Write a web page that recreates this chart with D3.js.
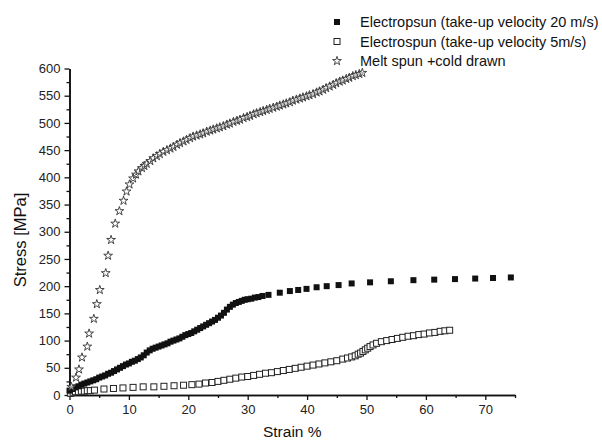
<!DOCTYPE html>
<html>
<head>
<meta charset="utf-8">
<script src="https://cdn.jsdelivr.net/npm/d3@7"></script>
<style>
  body { margin: 0; background: #fff; }
  svg { font-family: "Liberation Sans", Arial, sans-serif; }
</style>
</head>
<body>
<div class="chart"></div>
<script>
// electrospun, take-up velocity 20 m/s
var strain20 = [0.0,0.5,1.0,1.5,2.0,2.5,3.0,3.5,4.0,4.5,5.0,5.5,6.0,6.5,7.0,7.5,8.0,8.5,9.0,9.5,
  10.0,10.5,11.0,11.5,12.0,12.5,13.0,13.5,14.0,14.5,15.0,15.5,16.0,16.5,17.0,17.5,18.0,18.5,19.0,19.5,
  20.0,20.5,21.0,21.5,22.0,22.5,23.0,23.5,24.0,24.5,25.0,25.5,26.0,26.5,27.0,27.5,28.0,28.5,29.0,29.5,
  30.0,30.6,31.2,31.8,32.5,33.5,35.4,37.1,38.5,39.9,41.6,43.3,45.3,47.5,
  50.6,54.1,57.9,61.4,64.9,68.3,71.3,74.3];
var stress20 = [8,11,14,16,19,21,23,25,27,29,32,34,36,39,41,44,47,50,53,56,
  58,61,63,66,69,73,78,82,85,87,89,91,93,95,98,100,102,104,107,110,
  112,114,117,120,123,126,129,132,135,138,142,146,151,157,162,166,169,171,173,175,
  176,177,179,180,182,184,188,191,193,195,198,200,202,205,
  207,209,211,212,213,214,215,216];

// electrospun, take-up velocity 5 m/s
var strain5 = [0.2,0.6,1.0,1.5,2.0,2.5,3.0,3.5,4.2,5.8,7.4,9.0,10.7,12.4,14.2,15.9,17.6,19.2,20.6,21.8,
  22.9,24.0,25.0,26.0,27.0,28.0,29.0,30.0,31.0,32.0,33.0,34.0,35.0,36.0,37.0,38.0,39.0,40.0,41.0,42.0,
  43.0,44.0,45.0,46.0,46.8,47.5,48.1,48.6,49.0,49.4,49.8,50.2,50.6,51.1,51.7,52.5,53.4,54.3,55.2,56.1,
  57.0,57.9,58.8,59.7,60.6,61.5,62.4,63.2,64.0];
var stress5 = [3,5,6,6,7,7,8,8,9,11,12,13,14,15,15,16,17,18,19,20,
  22,23,25,27,29,31,33,34,36,38,40,41,43,45,47,49,51,53,55,57,
  59,61,63,66,68,70,72,75,77,80,83,86,89,92,95,98,100,102,104,106,
  108,109,111,112,114,115,117,118,119];

// melt spun + cold drawn
var strainMelt = [0.3,1.1,1.6,2.1,3.0,3.3,4.1,4.6,5.1,6.1,6.5,7.0,7.7,8.4,9.1,9.6,10.1,10.7,11.2,11.6,
  12.2,12.6,13.0,13.6,14.1,14.7,15.2,15.8,16.4,17.0,17.5,18.1,18.6,19.2,19.7,20.3,20.8,21.4,22.0,22.5,
  23.1,23.7,24.2,24.8,25.3,25.9,26.5,27.0,27.6,28.2,28.7,29.3,29.9,30.4,31.0,31.5,32.1,32.6,33.2,33.7,
  34.3,34.9,35.4,36.0,36.5,37.1,37.6,38.2,38.8,39.3,39.9,40.4,41.0,41.6,42.1,42.7,43.2,43.8,44.4,44.9,
  45.5,46.0,46.6,47.1,47.7,48.2,48.8,49.3];
var stressMelt = [15,32,47,69,89,113,140,167,193,224,256,285,315,338,357,374,387,398,405,411,
  417,421,425,430,435,439,443,447,450,453,456,460,463,466,469,472,475,477,479,481,
  484,486,488,490,492,494,497,499,502,504,506,509,511,513,516,518,520,522,524,526,
  528,530,532,534,536,538,541,543,545,547,549,551,553,556,558,561,564,567,570,573,
  576,578,581,583,586,588,590,592];

var legendLabels = ["Electropsun (take-up velocity 20 m/s)",
                    "Electrospun (take-up velocity 5m/s)",
                    "Melt spun +cold drawn"];
var xMajor = [0,10,20,30,40,50,60,70];
var xMinor = [5,15,25,35,45,55,65,75];
var yMajor = d3.range(0, 601, 50);
var yMinor = d3.range(25, 600, 50);

var width = 602, height = 443;

var svg = d3.select(".chart")
    .append("svg")
    .attr("width", width)
    .attr("height", height);

var x = d3.scaleLinear().domain([0, 75]).range([69.5, 515]);
var y = d3.scaleLinear().domain([0, 600]).range([395, 68.5]);

function zip(a, b) {
    return a.map(function(v, i) { return [v, b[i]]; });
}

// axes
svg.append("g")
    .attr("transform", "translate(0," + y(0) + ")")
    .call(d3.axisBottom(x).tickValues(xMajor).tickSize(5).tickSizeOuter(0).tickPadding(5));
svg.append("g")
    .attr("transform", "translate(0," + y(0) + ")")
    .call(d3.axisBottom(x).tickValues(xMinor).tickSize(3).tickSizeOuter(0).tickFormat(""));

svg.append("g")
    .attr("transform", "translate(" + x(0) + ",0)")
    .call(d3.axisLeft(y).tickValues(yMajor).tickSize(5).tickSizeOuter(0).tickPadding(4));
svg.append("g")
    .attr("transform", "translate(" + x(0) + ",0)")
    .call(d3.axisLeft(y).tickValues(yMinor).tickSize(3).tickSizeOuter(0).tickFormat(""));

svg.selectAll(".domain").attr("stroke", "#111").attr("stroke-width", 1.6);
svg.selectAll(".tick line").attr("stroke", "#111").attr("stroke-width", 1.3);
svg.selectAll(".tick text")
    .attr("font-family", "Liberation Sans, Arial, sans-serif")
    .attr("font-size", 13)
    .attr("fill", "#222");

svg.append("text")
    .attr("x", (x(0) + x(75)) / 2)
    .attr("y", 437)
    .attr("text-anchor", "middle")
    .attr("font-size", 15.5)
    .attr("fill", "#111")
    .text("Strain %");

svg.append("text")
    .attr("transform", "translate(26,240) rotate(-90)")
    .attr("text-anchor", "middle")
    .attr("font-size", 16.5)
    .attr("fill", "#111")
    .text("Stress [MPa]");

// series
var side = 6;

svg.append("g").selectAll("rect")
    .data(zip(strain5, stress5))
    .enter()
    .append("rect")
    .attr("x", function(d) { return x(d[0]) - side / 2; })
    .attr("y", function(d) { return y(d[1]) - side / 2; })
    .attr("width", side)
    .attr("height", side)
    .attr("fill", "#fff")
    .attr("stroke", "#222")
    .attr("stroke-width", 1);

svg.append("g").selectAll("rect")
    .data(zip(strain20, stress20))
    .enter()
    .append("rect")
    .attr("x", function(d) { return x(d[0]) - side / 2; })
    .attr("y", function(d) { return y(d[1]) - side / 2; })
    .attr("width", side)
    .attr("height", side)
    .attr("fill", "#111");

var star = d3.symbol().type(d3.symbolStar).size(24);

svg.append("g").selectAll("path")
    .data(zip(strainMelt, stressMelt))
    .enter()
    .append("path")
    .attr("d", star)
    .attr("transform", function(d) { return "translate(" + x(d[0]) + "," + y(d[1]) + ")"; })
    .attr("fill", "#fff")
    .attr("fill-opacity", 0.6)
    .attr("stroke", "#333")
    .attr("stroke-width", 0.9);

// legend
var legend = svg.append("g").attr("transform", "translate(337,22)");
var rowH = 19.5;

legend.append("rect")
    .attr("x", -3).attr("y", -3).attr("width", 6).attr("height", 6)
    .attr("fill", "#111");
legend.append("rect")
    .attr("x", -3).attr("y", rowH - 3).attr("width", 6).attr("height", 6)
    .attr("fill", "#fff").attr("stroke", "#222");
legend.append("path")
    .attr("d", star)
    .attr("transform", "translate(0," + (2 * rowH) + ")")
    .attr("fill", "#fff")
    .attr("stroke", "#333")
    .attr("stroke-width", 0.9);

legend.selectAll("text")
    .data(legendLabels)
    .enter()
    .append("text")
    .attr("x", 23)
    .attr("y", function(d, i) { return i * rowH; })
    .attr("dy", "0.35em")
    .attr("font-size", 14.5)
    .attr("fill", "#111")
    .text(function(d) { return d; });
</script>
</body>
</html>
